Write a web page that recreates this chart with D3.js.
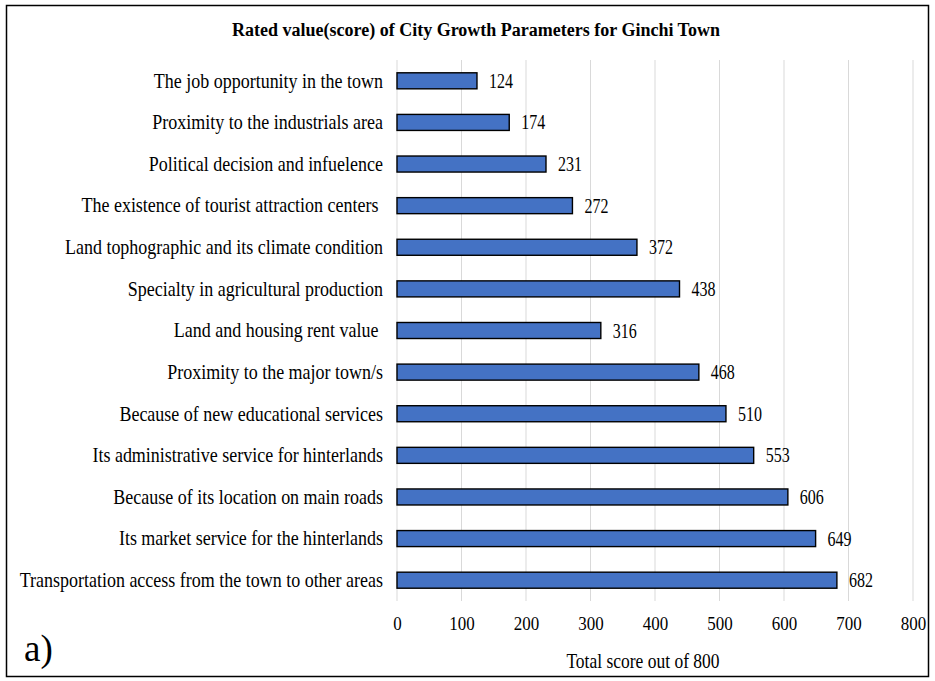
<!DOCTYPE html>
<html>
<head>
<meta charset="utf-8">
<script src="https://cdn.jsdelivr.net/npm/d3@7"></script>
<style>
  html, body { margin: 0; padding: 0; background: #fff; }
  svg { display: block; }
</style>
</head>
<body>
<svg id="chart" width="935" height="681"></svg>
<script>
// City growth parameters, listed top to bottom
const categories = [
  "The job opportunity in the town",
  "Proximity to the industrials area",
  "Political decision and infuelence",
  "The existence of tourist attraction centers ",
  "Land tophographic and its climate condition",
  "Specialty in agricultural production",
  "Land and housing rent value ",
  "Proximity to the major town/s",
  "Because of new educational services",
  "Its administrative service for hinterlands",
  "Because of its location on main roads",
  "Its market service for the hinterlands",
  "Transportation access from the town to other areas"
];
const scores = [124, 174, 231, 272, 372, 438, 316, 468, 510, 553, 606, 649, 682];
const xTicks = [0, 100, 200, 300, 400, 500, 600, 700, 800];

const titleText = "Rated value(score) of City Growth Parameters for Ginchi Town";
const axisTitle = "Total score out of 800";
const panelLabel = "a)";

const FONT = "'Liberation Serif', 'Times New Roman', Times, serif";
const TALL = 1.15; // glyphs are drawn slightly taller than wide

const svg = d3.select("#chart").style("font-family", FONT);

// outer frame
svg.append("rect")
  .attr("x", 6.5).attr("y", 5.5)
  .attr("width", 922).attr("height", 671)
  .attr("fill", "#fff").attr("stroke", "#000").attr("stroke-width", 1.5);

const plot = { left: 397, right: 913, top: 60, bottom: 601 };

const x = d3.scaleLinear().domain([0, 800]).range([plot.left, plot.right]);
const y = d3.scaleBand().domain(categories).range([plot.top, plot.bottom])
  .paddingInner(0.615).paddingOuter(0.3075);

// vertical gridlines
svg.append("g")
  .selectAll("line")
  .data(xTicks)
  .join("line")
  .attr("x1", d => x(d)).attr("x2", d => x(d))
  .attr("y1", plot.top).attr("y2", plot.bottom)
  .attr("stroke", "#d9d9d9").attr("stroke-width", 1);

// x axis tick labels
const xAxis = d3.axisBottom(x).tickValues(xTicks).tickSize(0).tickPadding(0);
const gx = svg.append("g").attr("transform", `translate(0,${plot.bottom + 29})`).call(xAxis);
gx.select(".domain").remove();
gx.attr("font-family", null).attr("font-size", null);
gx.selectAll("text")
  .attr("y", 0).attr("dy", null)
  .attr("transform", `scale(1,${TALL})`)
  .style("font-size", "17px");

// category labels
const yAxis = d3.axisLeft(y).tickSize(0).tickPadding(14);
const gy = svg.append("g").attr("transform", `translate(${plot.left},0)`).call(yAxis);
gy.select(".domain").remove();
gy.attr("font-family", null).attr("font-size", null);
gy.selectAll("text")
  .attr("dy", "0.33em")
  .attr("transform", `scale(1,${TALL})`)
  .style("font-size", "18px")
  .style("white-space", "pre");

// bars
svg.append("g")
  .selectAll("rect")
  .data(categories)
  .join("rect")
  .attr("x", x(0))
  .attr("y", d => y(d))
  .attr("width", (d, i) => x(scores[i]) - x(0))
  .attr("height", y.bandwidth())
  .attr("fill", "#4472C4")
  .attr("stroke", "#000").attr("stroke-width", 1.4);

// value labels
svg.append("g")
  .selectAll("text")
  .data(categories)
  .join("text")
  .attr("transform", (d, i) => `translate(${x(scores[i]) + 12},${y(d) + y.bandwidth() / 2}) scale(1,${TALL + 0.1})`)
  .attr("dy", "0.35em")
  .style("font-size", "16px")
  .text((d, i) => scores[i]);

// title
svg.append("text")
  .attr("transform", `translate(476,36)`)
  .attr("text-anchor", "middle")
  .style("font-size", "18px").style("font-weight", "bold")
  .text(titleText);

// axis title
svg.append("text")
  .attr("transform", `translate(643,668) scale(1,${TALL})`)
  .attr("text-anchor", "middle")
  .style("font-size", "17.5px")
  .text(axisTitle);

// panel label
svg.append("text")
  .attr("transform", `translate(24,661)`)
  .style("font-size", "37px")
  .text(panelLabel);

// all text in the serif face, black
svg.selectAll("text").style("font-family", FONT).style("fill", "#000");
</script>
</body>
</html>
